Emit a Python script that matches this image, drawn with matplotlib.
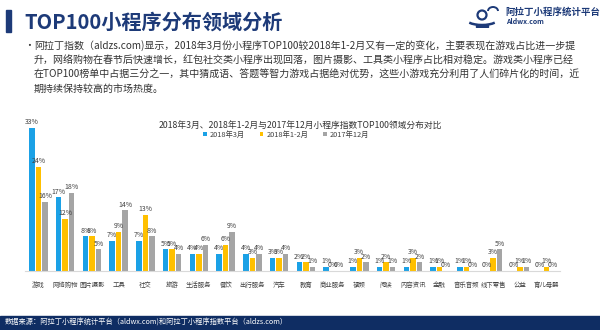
import numpy as np
import matplotlib.pyplot as plt
from matplotlib.patches import Rectangle, Circle, Arc

plt.rcParams['font.family'] = ['Noto Sans CJK SC', 'DejaVu Sans']

categories = ['游戏', '网络购物', '图片摄影', '工具', '社交', '旅游', '生活服务', '餐饮', '出行服务', '汽车',
              '教育', '商业服务', '视频', '阅读', '内容资讯', '金融', '音乐音频', '线下零售', '公益', '育儿母婴']
mar_2018 = [33, 17, 8, 7, 7, 5, 4, 4, 4, 3, 2, 1, 1, 1, 1, 1, 1, 0, 0, 0]
janfeb_2018 = [24, 12, 8, 9, 13, 5, 4, 6, 3, 3, 2, 0, 3, 2, 3, 1, 1, 3, 1, 1]
dec_2017 = [16, 18, 5, 14, 8, 4, 6, 9, 4, 4, 1, 0, 2, 1, 2, 0, 0, 5, 1, 0]
series_names = ['2018年3月', '2018年1-2月', '2017年12月']
colors = ['#1ba1e6', '#ffc000', '#a5a5a5']

W, H = 600, 330
fig = plt.figure(figsize=(6, 3.3), dpi=100)
navy = '#1d3a78'


def px(x, y):
    return x / W, 1 - y / H


# header
fig.patches.append(Rectangle(px(6, 32), 5 / W, 22 / H, transform=fig.transFigure,
                             color=navy, zorder=5))
fig.text(*px(24, 22), 'TOP100小程序分布领域分析', fontsize=14.5, fontweight='bold',
         color=navy, va='center', ha='left')

# logo: simple drawn mark + name
logo = fig.add_axes([462 / W, 1 - 28 / H, 40 / W, 22 / H])
logo.set_xlim(0, 40)
logo.set_ylim(0, 22)
logo.axis('off')
logo.add_patch(Circle((20, 13), 4.5, fill=False, lw=1.6, color=navy))
logo.add_patch(Arc((20, 10), 34, 14, theta1=200, theta2=340, lw=1.8, color=navy))
logo.add_patch(Arc((31, 17), 10, 8, theta1=0, theta2=180, lw=1.4, color=navy))
logo.add_patch(Rectangle((14, 1), 12, 2, color=navy))
fig.text(*px(505, 12), '阿拉丁小程序统计平台', fontsize=6.8, fontweight='bold',
         color=navy, va='center', ha='left')
fig.text(*px(506, 22), 'Aldwx.com', fontsize=5, fontweight='bold',
         color=navy, va='center', ha='left')

lines = ['阿拉丁指数（aldzs.com)显示，2018年3月份小程序TOP100较2018年1-2月又有一定的变化，主要表现在游戏占比进一步提',
         '升，网络购物在春节后快速增长，红包社交类小程序出现回落，图片摄影、工具类小程序占比相对稳定。游戏类小程序已经',
         '在TOP100榜单中占据三分之一，其中猜成语、答题等智力游戏占据绝对优势，这些小游戏充分利用了人们碎片化的时间，近',
         '期持续保持较高的市场热度。']
fig.text(*px(24, 46), '•', fontsize=7, color='#333333', va='center', ha='left')
for i, ln in enumerate(lines):
    fig.text(*px(34, 46 + i * 14.3), ln, fontsize=7.2, color='#333333', va='center', ha='left')

# footer band
fig.patches.append(Rectangle((0, 0), 1, 14 / H, transform=fig.transFigure,
                             color='#0f2d63', zorder=1))
fig.text(*px(5, 323), '数据来源：阿拉丁小程序统计平台（aldwx.com)和阿拉丁小程序指数平台（aldzs.com）',
         fontsize=5.2, color='white', va='center', ha='left', zorder=6)

# chart
ax_left, ax_right, ax_base = 25, 560, 271
ax_top = ax_base - 35 * (143 / 33)
ax = fig.add_axes([ax_left / W, 1 - ax_base / H, (ax_right - ax_left) / W, (ax_base - ax_top) / H])
x = np.arange(len(categories))
bw = 0.21
offs = [-0.245, 0, 0.245]
for vals, name, c, o in zip([mar_2018, janfeb_2018, dec_2017], series_names, colors, offs):
    ax.bar(x + o, vals, bw, color=c, label=name)
    for xi, v in zip(x, vals):
        ax.text(xi + o, v + 0.4, f'{v}%', ha='center', va='bottom', fontsize=5, color='#404040')

ax.set_xlim(-0.5, len(categories) - 0.5)
ax.set_ylim(0, 35)
ax.set_yticks([])
ax.set_xticks(x)
ax.set_xticklabels(categories, fontsize=4.6, color='#404040')
ax.tick_params(axis='x', length=0, pad=7)
for s in ['top', 'right', 'left']:
    ax.spines[s].set_visible(False)
ax.spines['bottom'].set_color('#d9d9d9')
ax.patch.set_alpha(0)

fig.text(*px(300, 125), '2018年3月、2018年1-2月与2017年12月小程序指数TOP100领域分布对比',
         fontsize=6.3, color='#333333', ha='center', va='center')
fig.legend(loc='center', bbox_to_anchor=px(286, 135), ncol=3, frameon=False, fontsize=5.3,
           handlelength=0.5, handleheight=0.5, handletextpad=0.4, columnspacing=2.0,
           labelcolor='#404040')

fig.savefig('out.png', dpi=100)
